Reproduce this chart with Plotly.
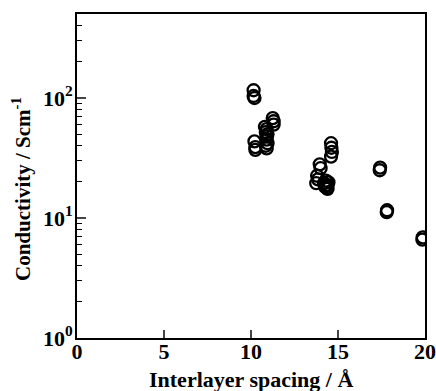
import plotly.graph_objects as go

# Data
spacing = [10.15, 10.15, 10.2, 10.2, 10.25, 10.25,
           10.8, 10.85, 10.9, 10.9, 10.95, 10.85, 10.9, 10.95, 10.9,
           11.25, 11.3, 11.3,
           14.6, 14.62, 14.65, 14.6,
           13.95, 14.0, 13.8, 13.75, 13.85,
           14.2, 14.3, 14.35, 14.4, 14.45, 14.3, 14.4, 14.25,
           17.4, 17.42, 17.8, 17.82, 19.85, 19.87]
conductivity = [116, 104, 100, 43.5, 39, 37,
                57.5, 52, 48, 45, 42, 40, 38, 50, 55,
                68, 64, 60,
                42, 38.5, 35.5, 32.5,
                28, 26, 22.5, 19.5, 21,
                19.5, 18.5, 17.8, 18.8, 19.8, 20.5, 17.5, 18.2,
                25, 26.3, 11.2, 11.6, 6.6, 6.9]

x_ticks = [0, 5, 10, 15, 20]
x_tick_labels = ["0", "5", "10", "15", "20"]
y_ticks = [1, 10, 100]
y_tick_labels = ["10<sup>0</sup>", "10<sup>1</sup>", "10<sup>2</sup>"]
y_minor = [v * m for v in [1, 10, 100] for m in range(2, 10)]
x_title = "Interlayer spacing / Å"
y_title = "Conductivity / Scm<sup>-1</sup>"

FONT = "Liberation Serif"

fig = go.Figure()
fig.add_trace(go.Scatter(
    x=spacing, y=conductivity, mode="markers",
    marker=dict(symbol="circle-open", size=12, color="black",
                line=dict(width=2.3, color="black")),
    showlegend=False,
))

fig.update_layout(
    width=436, height=391,
    margin=dict(l=77, r=11, t=14, b=53),
    paper_bgcolor="white", plot_bgcolor="white",
    font=dict(family=FONT, color="black", size=18),
    xaxis=dict(
        range=[0, 20], tickvals=x_ticks, ticktext=["<b>" + t + "</b>" for t in x_tick_labels],
        ticks="inside", ticklen=8, tickwidth=1.5, automargin=False,
        ticklabelstandoff=-7,
        showline=True, linewidth=2, linecolor="black", mirror=True,
        showgrid=False, zeroline=False,
        tickfont=dict(family=FONT, size=22, color="black"),
    ),
    yaxis=dict(
        type="log", range=[0, 2.7], tickvals=y_ticks, ticktext=["<b>" + t + "</b>" for t in y_tick_labels],
        ticks="inside", ticklen=9, tickwidth=1.5, automargin=False,
        ticklabelstandoff=-2,
        minor=dict(tickvals=y_minor, ticks="inside", ticklen=5, tickwidth=1.2, tickcolor="black", showgrid=False),
        showline=True, linewidth=2, linecolor="black", mirror=True,
        showgrid=False, zeroline=False,
        tickfont=dict(family=FONT, size=22, color="black"),
    ),
    annotations=[
        dict(text="<b>" + x_title + "</b>", xref="paper", yref="paper",
             x=0.5, y=-0.127, xanchor="center", yanchor="middle", showarrow=False,
             font=dict(family=FONT, size=22, color="black")),
        dict(text="<b>" + y_title + "</b>", xref="paper", yref="paper",
             x=-0.158, y=0.46, xanchor="center", yanchor="middle", showarrow=False,
             textangle=-90, font=dict(family=FONT, size=21, color="black")),
    ],
)

fig.write_html("out.html")
